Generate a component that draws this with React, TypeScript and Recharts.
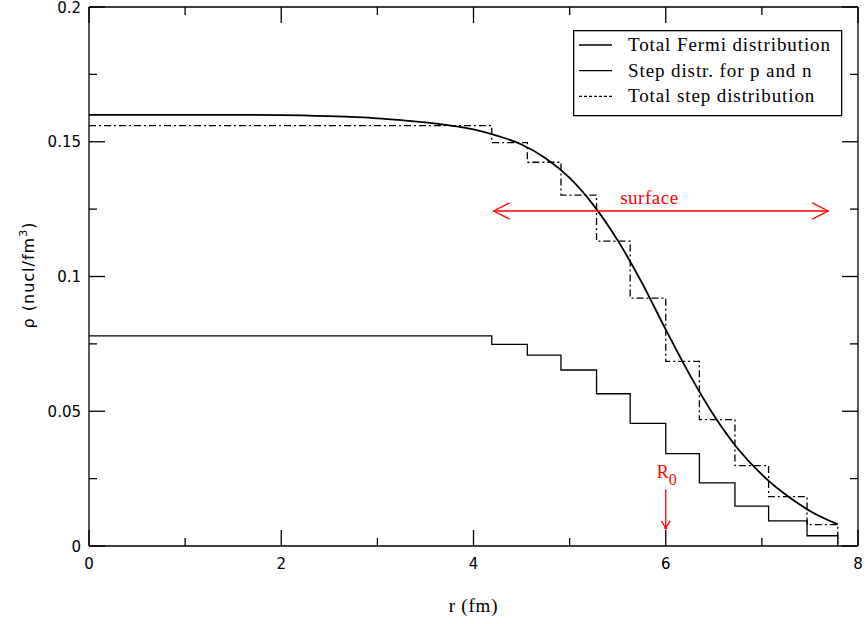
import React from 'react';
import { ComposedChart, Line, XAxis, YAxis, ReferenceDot, Legend } from 'recharts';

// ---- data ----
const fermiR = [0, 1, 2, 2.5, 3, 3.25, 3.5, 3.75, 4, 4.25, 4.5, 4.75, 5, 5.25, 5.5, 5.75, 6, 6.25, 6.5, 6.75, 7, 7.25, 7.5, 7.79];
const fermiRho = [0.16, 0.16, 0.1599, 0.1595, 0.1587, 0.158, 0.1572, 0.1561, 0.1546, 0.1522, 0.149, 0.1439, 0.1366, 0.1264, 0.1134, 0.0978, 0.0803, 0.0635, 0.0485, 0.0361, 0.0265, 0.019, 0.013, 0.008];

const stepEdges = [0, 4.19, 4.56, 4.91, 5.28, 5.63, 6.0, 6.35, 6.72, 7.07, 7.47, 7.79];
const stepPN = [0.078, 0.0748, 0.0708, 0.0653, 0.0565, 0.0455, 0.0343, 0.0234, 0.0148, 0.0093, 0.0038, 0];
const stepTotal = [0.156, 0.1497, 0.1424, 0.1302, 0.1131, 0.092, 0.0685, 0.0469, 0.0298, 0.0183, 0.0079, 0];

const seriesNames = ['Total Fermi distribution', 'Step distr. for p and n', 'Total step distribution'];

const xTicks = [0, 1, 2, 3, 4, 5, 6, 7, 8];
const yTicks = [0, 0.025, 0.05, 0.075, 0.1, 0.125, 0.15, 0.175, 0.2];

// annotations (data coordinates)
const surfaceR = [4.21, 7.69];
const surfaceRho = 0.1243;
const surfaceHeadLen = 0.166;
const surfaceHeadHalf = 0.003;
const surfaceLabel = { r: 5.83, rho: 0.1269, text: 'surface' };
const r0Arrow = { r: 6.0, top: 0.0211, tip: 0.0067, headHalf: 0.047, headLen: 0.0026 };
const r0Label = { r: 6.0, rho: 0.0252 };

const fermiData = fermiR.map((r, i) => ({ r, v: fermiRho[i] }));
const pnData = stepEdges.map((r, i) => ({ r, v: stepPN[i] }));
const totalData = stepEdges.map((r, i) => ({ r, v: stepTotal[i] }));

const surfShaft = surfaceR.map((r) => ({ r, v: surfaceRho }));
const surfLeftHead = [
  { r: surfaceR[0] + surfaceHeadLen, v: surfaceRho + surfaceHeadHalf },
  { r: surfaceR[0], v: surfaceRho },
  { r: surfaceR[0] + surfaceHeadLen, v: surfaceRho - surfaceHeadHalf },
];
const surfRightHead = [
  { r: surfaceR[1] - surfaceHeadLen, v: surfaceRho + surfaceHeadHalf },
  { r: surfaceR[1], v: surfaceRho },
  { r: surfaceR[1] - surfaceHeadLen, v: surfaceRho - surfaceHeadHalf },
];
const r0Shaft = [
  { r: r0Arrow.r, v: r0Arrow.top },
  { r: r0Arrow.r, v: r0Arrow.tip },
];
const r0HeadL = [
  { r: r0Arrow.r - r0Arrow.headHalf, v: r0Arrow.tip + r0Arrow.headLen },
  { r: r0Arrow.r, v: r0Arrow.tip },
];
const r0HeadR = [
  { r: r0Arrow.r, v: r0Arrow.tip },
  { r: r0Arrow.r + r0Arrow.headHalf, v: r0Arrow.tip + r0Arrow.headLen },
];

const M = 8;
const SW = 1.3;
const tickFont = { fontFamily: 'DejaVu Sans', fontSize: 15, fill: '#000' };
const serif = 'Liberation Serif';

const isMajorX = (v: number) => Math.abs(v / 2 - Math.round(v / 2)) < 1e-6;
const isMajorY = (v: number) => Math.abs(v * 20 - Math.round(v * 20)) < 1e-6;
const fmtY = (v: number) => (v === 0 ? '0' : String(Math.round(v * 100) / 100));

const BottomTick = (p: any) => {
  const v = p.payload.value;
  const major = isMajorX(v);
  const ay = p.y - M;
  return (
    <g>
      <line x1={p.x} x2={p.x} y1={ay} y2={ay - (major ? 16 : 8)} stroke="#000" strokeWidth={SW} />
      {major && (
        <text x={p.x} y={ay + 22.5} textAnchor="middle" {...tickFont}>
          {v}
        </text>
      )}
    </g>
  );
};
const TopTick = (p: any) => {
  const v = p.payload.value;
  const major = isMajorX(v);
  const ay = p.y + M;
  return <line x1={p.x} x2={p.x} y1={ay} y2={ay + (major ? 16 : 8)} stroke="#000" strokeWidth={SW} />;
};
const LeftTick = (p: any) => {
  const v = p.payload.value;
  const major = isMajorY(v);
  const ax = p.x + M;
  return (
    <g>
      <line x1={ax} x2={ax + (major ? 16 : 8)} y1={p.y} y2={p.y} stroke="#000" strokeWidth={SW} />
      {major && (
        <text x={ax - 8} y={p.y + 5.5} textAnchor="end" {...tickFont}>
          {fmtY(v)}
        </text>
      )}
    </g>
  );
};
const RightTick = (p: any) => {
  const v = p.payload.value;
  const major = isMajorY(v);
  const ax = p.x - M;
  return <line x1={ax} x2={ax - (major ? 16 : 8)} y1={p.y} y2={p.y} stroke="#000" strokeWidth={SW} />;
};

const XTitle = (p: any) => {
  const vb = p.viewBox;
  return (
    <text x={vb.x + vb.width / 2} y={vb.y + 66} textAnchor="middle" fontFamily={serif} fontSize={19} letterSpacing={0.8} style={{ fill: '#000' }}>
      r (fm)
    </text>
  );
};
const YTitle = () => {
  const cx = 34;
  const cy = 275;
  return (
    <text x={cx} y={cy} transform={`rotate(-90, ${cx}, ${cy})`} textAnchor="middle" fontFamily="DejaVu Sans" fontSize={16} letterSpacing={1} style={{ fill: '#000' }}>
      <tspan>{'ρ  (nucl/fm'}</tspan>
      <tspan dy={-7} fontSize={11}>3</tspan>
      <tspan dy={7}>)</tspan>
    </text>
  );
};

const LegendBox = () => {
  const dashes = [undefined, undefined, '3 2'];
  return (
    <svg width={270} height={87} style={{ display: 'block' }}>
      <rect x={0.65} y={0.65} width={268} height={85} fill="#fff" stroke="#000" strokeWidth={SW} />
      {seriesNames.map((n, i) => {
        const cy = 15 + i * 25.7;
        return (
          <g key={n}>
            <line x1={6} x2={39} y1={cy} y2={cy} stroke="#000" strokeWidth={SW} strokeDasharray={dashes[i]} />
            <text x={55} y={cy + 6} fontFamily={serif} fontSize={19} letterSpacing={0.9} fill="#000">
              {n}
            </text>
          </g>
        );
      })}
    </svg>
  );
};

const SurfaceText = (p: any) => (
  <text x={p.cx} y={p.cy} textAnchor="middle" fontFamily={serif} fontSize={19} letterSpacing={0.5} fill="#ff0000">
    {surfaceLabel.text}
  </text>
);
const R0Text = (p: any) => (
  <text x={p.cx - 9} y={p.cy} fontFamily={serif} fontSize={18} fill="#ff0000">
    <tspan>R</tspan>
    <tspan dy={7} fontSize={16}>0</tspan>
  </text>
);

const lineCommon = {
  dataKey: 'v',
  dot: false,
  activeDot: false,
  isAnimationActive: false,
  legendType: 'none' as const,
};

export default function App() {
  return (
    <div style={{ position: 'absolute', left: 0, top: 0 }}>
      <ComposedChart width={865} height={624} margin={{ top: 0, right: 0, bottom: 38, left: 29 }}>
        <XAxis
          xAxisId="b"
          type="number"
          dataKey="r"
          domain={[0, 8]}
          ticks={xTicks}
          allowDataOverflow
          height={40}
          tickSize={0}
          tickMargin={M}
          axisLine={{ stroke: '#000', strokeWidth: SW }}
          tickLine={false}
          tick={<BottomTick />}
          interval={0}
          label={<XTitle />}
        />
        <XAxis
          xAxisId="t"
          orientation="top"
          type="number"
          dataKey="r"
          domain={[0, 8]}
          ticks={xTicks}
          allowDataOverflow
          height={7}
          tickSize={0}
          tickMargin={M}
          axisLine={{ stroke: '#000', strokeWidth: SW }}
          tickLine={false}
          tick={<TopTick />}
          interval={0}
        />
        <YAxis
          yAxisId="l"
          type="number"
          domain={[0, 0.2]}
          ticks={yTicks}
          allowDataOverflow
          width={60}
          tickSize={0}
          tickMargin={M}
          axisLine={{ stroke: '#000', strokeWidth: SW }}
          tickLine={false}
          tick={<LeftTick />}
          interval={0}
          label={<YTitle />}
        />
        <YAxis
          yAxisId="r"
          orientation="right"
          type="number"
          domain={[0, 0.2]}
          ticks={yTicks}
          allowDataOverflow
          width={7}
          tickSize={0}
          tickMargin={M}
          axisLine={{ stroke: '#000', strokeWidth: SW }}
          tickLine={false}
          tick={<RightTick />}
          interval={0}
        />
        <Legend
          layout="vertical"
          align="center"
          verticalAlign="middle"
          content={<LegendBox />}
          wrapperStyle={{ position: 'absolute', left: 573, top: 30, width: 270, height: 87 }}
        />

        <Line {...lineCommon} xAxisId="b" yAxisId="l" data={totalData} type="stepAfter" stroke="#000" strokeWidth={SW} strokeDasharray="7 3 2 3" name={seriesNames[2]} />
        <Line {...lineCommon} xAxisId="b" yAxisId="l" data={pnData} type="stepAfter" stroke="#000" strokeWidth={SW} name={seriesNames[1]} />
        <Line {...lineCommon} xAxisId="b" yAxisId="l" data={fermiData} type="monotone" stroke="#000" strokeWidth={1.8} name={seriesNames[0]} />

        <Line {...lineCommon} xAxisId="b" yAxisId="l" data={surfShaft} type="linear" stroke="#ff0000" strokeWidth={1.3} />
        <Line {...lineCommon} xAxisId="b" yAxisId="l" data={surfLeftHead} type="linear" stroke="#ff0000" strokeWidth={1.3} />
        <Line {...lineCommon} xAxisId="b" yAxisId="l" data={surfRightHead} type="linear" stroke="#ff0000" strokeWidth={1.3} />
        <Line {...lineCommon} xAxisId="b" yAxisId="l" data={r0Shaft} type="linear" stroke="#ff0000" strokeWidth={1.3} />
        <Line {...lineCommon} xAxisId="b" yAxisId="l" data={r0HeadL} type="linear" stroke="#ff0000" strokeWidth={1.3} />
        <Line {...lineCommon} xAxisId="b" yAxisId="l" data={r0HeadR} type="linear" stroke="#ff0000" strokeWidth={1.3} />

        <ReferenceDot xAxisId="b" yAxisId="l" x={surfaceLabel.r} y={surfaceLabel.rho} r={1} shape={<SurfaceText />} />
        <ReferenceDot xAxisId="b" yAxisId="l" x={r0Label.r} y={r0Label.rho} r={1} shape={<R0Text />} />
        <ReferenceDot xAxisId="b" yAxisId="l" x={r0Arrow.r} y={r0Arrow.tip} r={1.5} fill="#ff0000" stroke="none" />
      </ComposedChart>
    </div>
  );
}
